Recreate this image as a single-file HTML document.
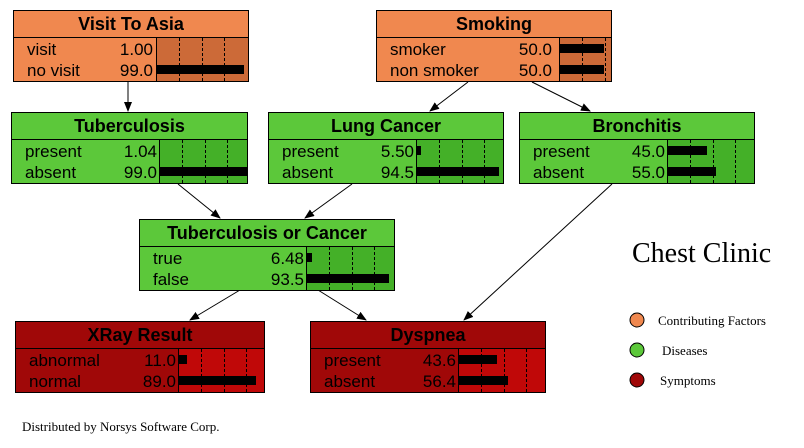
<!DOCTYPE html><html><head><style>
body{margin:0;width:804px;height:448px;background:#fff;position:relative;overflow:hidden;font-family:"Liberation Sans",sans-serif}
.n{position:absolute;height:72px;border:1px solid #000;box-sizing:border-box;overflow:hidden}
.t{height:26px;border-bottom:1px solid #000;text-align:center;font-weight:bold;font-size:18px;line-height:27px}
.r{position:absolute;left:13px;font-size:17px;line-height:21px}
.v{position:absolute;font-size:17px;line-height:21px;text-align:right;width:60px}
.ba{position:absolute;top:27px;bottom:0;border-left:1px solid #000;overflow:hidden}
.d{position:absolute;top:0;bottom:0;border-left:1px dashed #000}
.b{position:absolute;height:9px;background:#000;left:0}
.o{background:#f0884f}.o .ba{background:#cc6a38}
.g{background:#5cc83a}.g .ba{background:#44b028}
.rd{background:#a00808}.rd .ba{background:#c00808}
svg{position:absolute;left:0;top:0}
</style></head><body>
<svg width="804" height="448"><defs><marker id="a" markerWidth="10" markerHeight="8" refX="9" refY="4" orient="auto"><path d="M0,0L10,4L0,8z"/></marker></defs>
<g stroke="#000" stroke-width="1" marker-end="url(#a)">
<line x1="128" y1="82" x2="128" y2="111"/>
<line x1="468" y1="82" x2="430" y2="111"/>
<line x1="532" y1="82" x2="590" y2="111"/>
<line x1="178" y1="184" x2="220" y2="218"/>
<line x1="352" y1="184" x2="305" y2="218"/>
<line x1="240" y1="290" x2="190" y2="320"/>
<line x1="318" y1="290" x2="366" y2="320"/>
<line x1="612" y1="184" x2="464" y2="320"/>
</g>
<text x="632" y="262" font-family="Liberation Serif" font-size="28">Chest Clinic</text>
<circle cx="637" cy="320" r="7" fill="#f0884f" stroke="#000"/>
<circle cx="637" cy="350" r="7" fill="#5cc83a" stroke="#000"/>
<circle cx="637" cy="380" r="7" fill="#a00808" stroke="#000"/>
<g font-family="Liberation Serif" font-size="13"><text x="658" y="325">Contributing Factors</text><text x="662" y="355">Diseases</text><text x="660" y="385">Symptoms</text><text x="22" y="431">Distributed by Norsys Software Corp.</text></g>
</svg>

<div class="n o" style="left:13px;top:10px;width:236px"><div class="t">Visit To Asia</div>
<div class="r" style="top:28px">visit</div><div class="r" style="top:49px">no visit</div>
<div class="v" style="left:79px;top:28px">1.00</div><div class="v" style="left:79px;top:49px">99.0</div>
<div class="ba" style="left:142px;right:0"><div class="d" style="left:22px"></div><div class="d" style="left:45px"></div><div class="d" style="left:67px"></div><div class="b" style="top:27px;width:87px"></div></div></div>

<div class="n o" style="left:376px;top:10px;width:236px"><div class="t">Smoking</div>
<div class="r" style="top:28px">smoker</div><div class="r" style="top:49px">non smoker</div>
<div class="v" style="left:115px;top:28px">50.0</div><div class="v" style="left:115px;top:49px">50.0</div>
<div class="ba" style="left:182px;right:0"><div class="d" style="left:22px"></div><div class="d" style="left:45px"></div><div class="d" style="left:67px"></div><div class="b" style="top:6px;width:44px"></div><div class="b" style="top:27px;width:44px"></div></div></div>

<div class="n g" style="left:11px;top:112px;width:237px"><div class="t">Tuberculosis</div>
<div class="r" style="top:28px">present</div><div class="r" style="top:49px">absent</div>
<div class="v" style="left:85px;top:28px">1.04</div><div class="v" style="left:85px;top:49px">99.0</div>
<div class="ba" style="left:147px;right:0"><div class="d" style="left:22px"></div><div class="d" style="left:45px"></div><div class="d" style="left:67px"></div><div class="b" style="top:27px;width:87px"></div></div></div>

<div class="n g" style="left:268px;top:112px;width:236px"><div class="t">Lung Cancer</div>
<div class="r" style="top:28px">present</div><div class="r" style="top:49px">absent</div>
<div class="v" style="left:85px;top:28px">5.50</div><div class="v" style="left:85px;top:49px">94.5</div>
<div class="ba" style="left:147px;right:0"><div class="d" style="left:22px"></div><div class="d" style="left:45px"></div><div class="d" style="left:67px"></div><div class="b" style="top:6px;width:4px"></div><div class="b" style="top:27px;width:82px"></div></div></div>

<div class="n g" style="left:519px;top:112px;width:236px"><div class="t">Bronchitis</div>
<div class="r" style="top:28px">present</div><div class="r" style="top:49px">absent</div>
<div class="v" style="left:85px;top:28px">45.0</div><div class="v" style="left:85px;top:49px">55.0</div>
<div class="ba" style="left:147px;right:0"><div class="d" style="left:22px"></div><div class="d" style="left:45px"></div><div class="d" style="left:67px"></div><div class="b" style="top:6px;width:39px"></div><div class="b" style="top:27px;width:48px"></div></div></div>

<div class="n g" style="left:139px;top:219px;width:256px"><div class="t">Tuberculosis or Cancer</div>
<div class="r" style="top:28px">true</div><div class="r" style="top:49px">false</div>
<div class="v" style="left:104px;top:28px">6.48</div><div class="v" style="left:104px;top:49px">93.5</div>
<div class="ba" style="left:166px;right:0"><div class="d" style="left:22px"></div><div class="d" style="left:45px"></div><div class="d" style="left:67px"></div><div class="b" style="top:6px;width:5px"></div><div class="b" style="top:27px;width:82px"></div></div></div>

<div class="n rd" style="left:15px;top:321px;width:250px"><div class="t">XRay Result</div>
<div class="r" style="top:28px">abnormal</div><div class="r" style="top:49px">normal</div>
<div class="v" style="left:100px;top:28px">11.0</div><div class="v" style="left:100px;top:49px">89.0</div>
<div class="ba" style="left:162px;right:0"><div class="d" style="left:22px"></div><div class="d" style="left:45px"></div><div class="d" style="left:67px"></div><div class="b" style="top:6px;width:8px"></div><div class="b" style="top:27px;width:77px"></div></div></div>

<div class="n rd" style="left:310px;top:321px;width:236px"><div class="t">Dyspnea</div>
<div class="r" style="top:28px">present</div><div class="r" style="top:49px">absent</div>
<div class="v" style="left:85px;top:28px">43.6</div><div class="v" style="left:85px;top:49px">56.4</div>
<div class="ba" style="left:147px;right:0"><div class="d" style="left:22px"></div><div class="d" style="left:45px"></div><div class="d" style="left:67px"></div><div class="b" style="top:6px;width:38px"></div><div class="b" style="top:27px;width:49px"></div></div></div>
</body></html>
